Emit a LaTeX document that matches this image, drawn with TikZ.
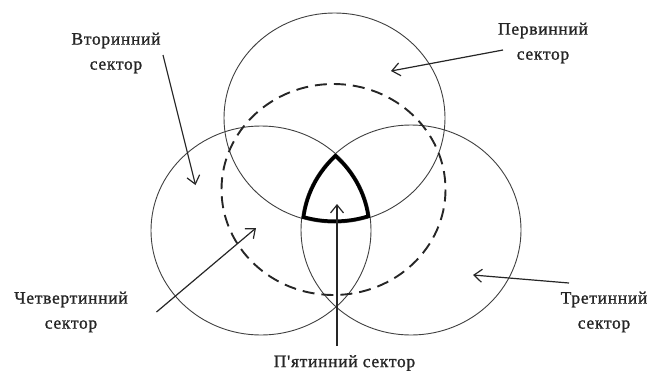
\documentclass[tikz,border=0pt]{standalone}
\usepackage{fontspec}
\setmainfont{Liberation Serif}[Ligatures=TeXOff]
\usetikzlibrary{arrows.meta}
\begin{document}
\begin{tikzpicture}[x=1pt,y=-1pt,
  ring/.style={draw=black!75,line width=0.9pt},
  dashring/.style={draw=black!85,line width=1.9pt,dash pattern=on 12pt off 7pt},
  pointer/.style={draw=black!85,line width=1.2pt,-{Straight Barb[length=8pt,width=13pt,line width=1.2pt]}},
  lbl/.style={font=\fontsize{17.5}{25}\selectfont\addfontfeatures{LetterSpace=4,FakeBold=1.2},align=center,inner sep=0pt,text=black!85}]
\useasboundingbox (0,0) rectangle (660,372);
% circles
\draw[ring] (334.5,118) ellipse [x radius=110.5, y radius=105];
\draw[ring] (261,230.5) ellipse [x radius=110, y radius=104.5];
\draw[ring] (411,230) ellipse [x radius=110, y radius=105];
\draw[dashring] (333.5,189.5) ellipse [x radius=112, y radius=105.5];
% central region
\begin{scope}
\clip (261,230.5) ellipse [x radius=110, y radius=104.5];
\clip (411,230) ellipse [x radius=110, y radius=105];
\clip (334.5,118) ellipse [x radius=110.5, y radius=105];
\draw[line width=7pt] (334.5,118) ellipse [x radius=110.5, y radius=105];
\draw[line width=7pt] (261,230.5) ellipse [x radius=110, y radius=104.5];
\draw[line width=7pt] (411,230) ellipse [x radius=110, y radius=105];
\end{scope}
% labels
\node[lbl] (second) at (116,53) {Вторинний\\сектор};
\node[lbl] (first) at (543,43) {Первинний\\сектор};
\node[lbl] (fourth) at (71,312) {Четвертинний\\сектор};
\node[lbl] (third) at (604,312) {Третинний\\сектор};
\node[lbl] (fifth) at (344.5,363) {П'ятинний сектор};
% arrow ends
\coordinate (s2) at (163,55);  \coordinate (e2) at (195.5,185);
\coordinate (s1) at (503,50);  \coordinate (e1) at (391,71);
\coordinate (s4) at (156.5,312); \coordinate (e4) at (256,228);
\coordinate (s5) at (337,346); \coordinate (e5) at (337,204);
\coordinate (s3) at (569,283); \coordinate (e3) at (473,275);
\draw[pointer] (s2) -- (e2);
\draw[pointer] (s1) -- (e1);
\draw[pointer] (s4) -- (e4);
\draw[pointer] (s5) -- (e5);
\draw[pointer] (s3) -- (e3);
\end{tikzpicture}
\end{document}
